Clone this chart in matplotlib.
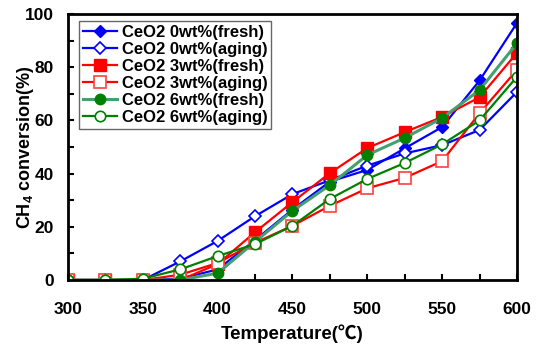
import matplotlib
matplotlib.use("Agg")
import matplotlib.pyplot as plt
from matplotlib.ticker import MultipleLocator

temps = [300, 325, 350, 375, 400, 425, 450, 475, 500, 525, 550, 575, 600]
ceo2_0_fresh = [0, 0, 0, 0.5, 4, 15, 26.5, 37, 41.4, 49.5, 57.5, 75, 96.6]
ceo2_0_aging = [0, 0, 0, 7, 14.7, 24, 32.3, 37.5, 43, 47.6, 50.7, 56.4, 70.7]
ceo2_3_fresh = [0, 0, 0, 0, 6, 18, 29.3, 40.2, 49.6, 55.6, 61.3, 68.7, 85.4]
ceo2_3_aging = [0, 0, 0, 2, 6.4, 14, 20.4, 27.9, 34.5, 38.4, 44.7, 62.7, 79]
ceo2_6_fresh = [0, 0, 0, 0, 2.6, 14.4, 26, 35.7, 47, 53.4, 60.9, 71.4, 89]
ceo2_6_aging = [0, 0, 0.5, 4, 9, 13.5, 20.4, 30.5, 38, 44, 51, 60, 76.4]

labels = ["CeO2 0wt%(fresh)", "CeO2 0wt%(aging)", "CeO2 3wt%(fresh)",
          "CeO2 3wt%(aging)", "CeO2 6wt%(fresh)", "CeO2 6wt%(aging)"]

plt.rcParams['font.family'] = ['Liberation Sans', 'Noto Sans CJK SC', 'DejaVu Sans']
plt.rcParams['font.weight'] = 'bold'
plt.rcParams['mathtext.fontset'] = 'custom'
plt.rcParams['mathtext.bf'] = 'Liberation Sans:bold'
plt.rcParams['mathtext.rm'] = 'Liberation Sans:bold'

fig = plt.figure(figsize=(5.41, 3.47), dpi=100)
ax = fig.add_axes([0.1257, 0.193, 0.8299, 0.7667])

lw = 1.6
ax.plot(temps, ceo2_0_fresh, color='#0000FF', lw=lw, marker='D', ms=6,
        mfc='#0000FF', mec='#0000FF', label=labels[0])
ax.plot(temps, ceo2_0_aging, color='#0000FF', lw=lw, marker='D', ms=6,
        mfc='white', mec='#0000FF', mew=1.2, label=labels[1])
ax.plot(temps, ceo2_3_fresh, color='#FF0000', lw=lw, marker='s', ms=8,
        mfc='#FF0000', mec='#FF0000', label=labels[2])
ax.plot(temps, ceo2_3_aging, color='#FF0000', lw=lw, marker='s', ms=8,
        mfc='white', mec='#FF4040', mew=1.2, label=labels[3])
ax.plot(temps, ceo2_6_fresh, color='#45A070', lw=lw + 0.6, marker='o', ms=7.5,
        mfc='#008000', mec='#008000', label=labels[4])
ax.plot(temps, ceo2_6_aging, color='#008000', lw=lw, marker='o', ms=7.5,
        mfc='white', mec='#008000', mew=1.2, label=labels[5])

ax.set_xlim(300, 600)
ax.set_ylim(0, 100)
ax.xaxis.set_major_locator(MultipleLocator(50))
ax.xaxis.set_minor_locator(MultipleLocator(25))
ax.yaxis.set_major_locator(MultipleLocator(20))
ax.yaxis.set_minor_locator(MultipleLocator(10))
ax.tick_params(which='both', direction='in', width=1.5, length=4, labelsize=12.5)
ax.tick_params(axis='x', pad=16)
ax.tick_params(axis='y', pad=10)
for s in ax.spines.values():
    s.set_linewidth(2)
for lab in ax.get_xticklabels() + ax.get_yticklabels():
    lab.set_fontweight('bold')

ax.set_xlabel('Temperature(℃)', fontsize=13.5, fontweight='bold', labelpad=5)
ax.set_ylabel('CH$_\\mathbf{4}$ conversion(%)', fontsize=13, fontweight='bold', labelpad=-8)

leg = ax.legend(loc='upper left', bbox_to_anchor=(0.0245, 0.975), fontsize=12,
                frameon=True, fancybox=False, edgecolor='#404040',
                handlelength=2.0, handletextpad=0.3, borderpad=0.25,
                labelspacing=0.12, borderaxespad=0.0)
leg.get_frame().set_linewidth(1.0)
for t in leg.get_texts():
    t.set_fontweight('bold')

fig.savefig('out.png', dpi=100)
